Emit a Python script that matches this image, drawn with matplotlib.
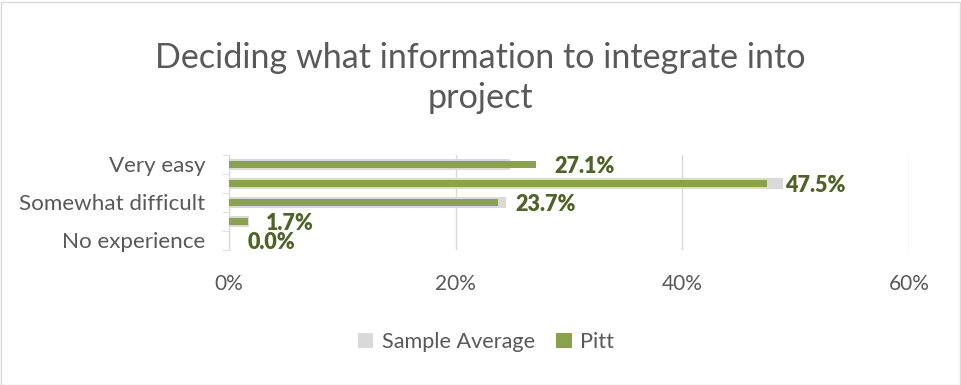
import matplotlib.pyplot as plt
from matplotlib.patches import Rectangle

categories = ["Very easy", "Somewhat easy", "Somewhat difficult", "Very difficult", "No experience"]
sample_avg = [24.8, 48.9, 24.4, 1.8, 0.0]
pitt = [27.1, 47.5, 23.7, 1.7, 0.0]
x_ticks = [0, 20, 40, 60]

GREEN = "#8AA24B"
LABEL_GREEN = "#4F6228"
GRAY = "#D9D9D9"
TEXT = "#595959"

plt.rcParams["font.family"] = ["Lato", "DejaVu Sans"]

fig = plt.figure(figsize=(9.61, 3.85), dpi=100)
ax = fig.add_axes([229 / 961, 1 - 250 / 385, 680 / 961, 95 / 385])

y = list(range(len(categories)))
ax.barh(y, sample_avg, height=0.62, color=GRAY, label="Sample Average", zorder=2)
ax.barh(y, pitt, height=0.38, color=GREEN, label="Pitt", zorder=3)

for yi, v in zip(y, pitt):
    ax.text(v + 1.6, yi + 0.12, f"{v:.1f}%", color=LABEL_GREEN, fontsize=15.5,
            fontweight="heavy", va="center", ha="left", zorder=4)

ax.set_xlim(0, 60)
ax.set_ylim(len(categories) - 0.5, -0.5)
ax.set_xticks(x_ticks)
ax.set_xticklabels([f"{t}%" for t in x_ticks])
ax.xaxis.grid(True, color=GRAY, linewidth=1)
ax.set_axisbelow(True)

# only every other category gets a label, ticks sit on band edges
ax.set_yticks(y[::2])
ax.set_yticklabels(categories[::2])
ax.set_yticks([i - 0.5 for i in range(len(categories) + 1)], minor=True)
ax.tick_params(axis="y", which="major", length=0, pad=17, labelsize=16.1, labelcolor=TEXT)
ax.tick_params(axis="y", which="minor", length=5, color=GRAY)
ax.tick_params(axis="x", length=0, pad=17, labelsize=15, labelcolor=TEXT)

for side in ["top", "right", "bottom"]:
    ax.spines[side].set_visible(False)
ax.spines["left"].set_color(GRAY)

fig.text(0.5, 1 - 78 / 385, "Deciding what information to integrate into\nproject",
         ha="center", va="center", fontsize=24.6, color=TEXT, linespacing=1.3)

handles, labels = ax.get_legend_handles_labels()
fig.legend(handles, labels, loc="center", bbox_to_anchor=(486 / 961, 1 - 342 / 385),
           ncol=2, frameon=False, fontsize=15.6, labelcolor=TEXT,
           handlelength=0.7, handleheight=0.7, handletextpad=0.4, columnspacing=1.0)

fig.patches.append(Rectangle((0.5 / 961, 0.5 / 385), 959 / 961, 383 / 385,
                             transform=fig.transFigure, fill=False,
                             edgecolor=GRAY, linewidth=1))

fig.savefig("out.png", dpi=100)
